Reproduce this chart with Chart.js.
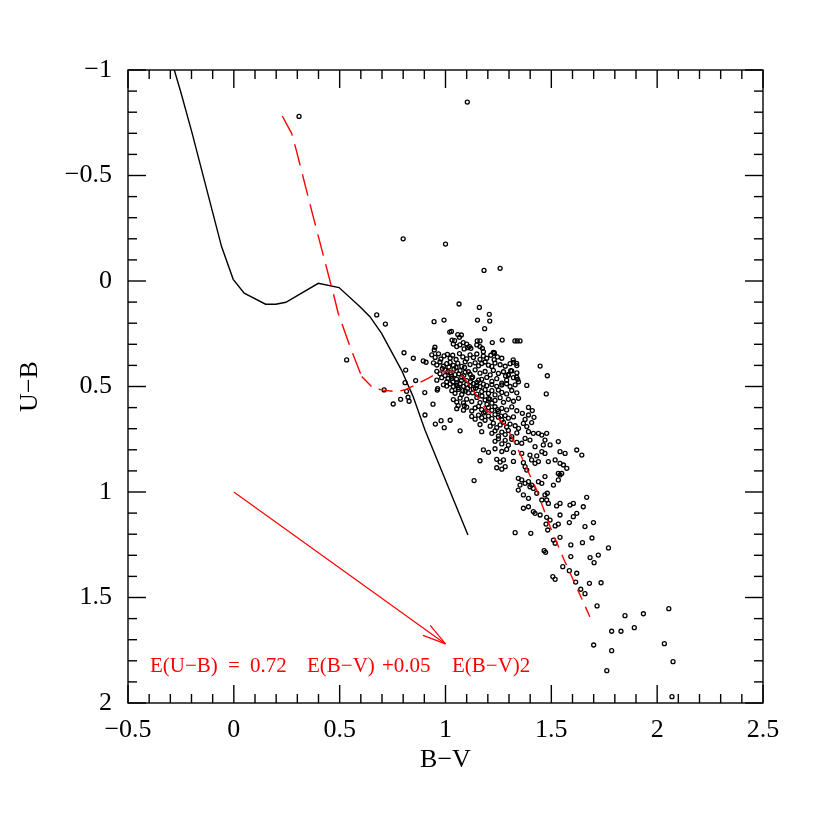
<!DOCTYPE html>
<html>
<head>
<meta charset="utf-8">
<script src="https://cdn.jsdelivr.net/npm/chart.js@4.4.0/dist/chart.umd.min.js"></script>
<style>
  html, body { margin: 0; padding: 0; background: #fff; }
  #wrap { width: 830px; height: 830px; position: relative; }
</style>
</head>
<body>
<div id="wrap"><canvas id="ccd"></canvas></div>
<script>
// intrinsic colours (solid black line)
const zamsBV = [-0.296, -0.251, -0.199, -0.058, -0.003, 0.049, 0.150, 0.198, 0.246, 0.399, 0.497, 0.596, 0.643, 0.698, 0.792, 0.847, 0.903, 1.106];
const zamsUB = [-1.05, -0.897, -0.708, -0.163, -0.008, 0.058, 0.110, 0.110, 0.101, 0.011, 0.031, 0.122, 0.169, 0.248, 0.422, 0.548, 0.706, 1.204];

// reddened sequence (red dashed line)
const redBV = [0.229, 0.273, 0.295, 0.367, 0.478, 0.493, 0.549, 0.604, 0.658, 0.706, 0.769, 0.816, 0.918, 0.974, 1.036, 1.083, 1.130, 1.193, 1.257, 1.288, 1.352, 1.391, 1.431, 1.494, 1.557, 1.682];
const redUB = [-0.782, -0.700, -0.620, -0.336, 0.091, 0.153, 0.311, 0.453, 0.508, 0.517, 0.525, 0.513, 0.461, 0.429, 0.429, 0.453, 0.517, 0.611, 0.659, 0.690, 0.817, 0.904, 0.991, 1.165, 1.314, 1.591];

// reddening vector
const arrowBV = [0, 1.0];
const arrowUB = [1.0, 1.72];

// observed stars [B-V, U-B]
const stars = [
  [1.103,-0.848],[0.308,-0.78],[0.80,-0.20],[1.0,-0.175],[1.182,-0.05],[1.258,-0.06],[1.064,0.109],[1.16,0.125],
  [0.675,0.161],[0.716,0.204],[0.533,0.374],[0.804,0.340],[0.848,0.366],[0.812,0.422],[0.809,0.482],[0.859,0.472],
  [0.710,0.516],[0.816,0.523],[0.823,0.551],[0.788,0.561],[0.828,0.570],[0.753,0.583],[0.902,0.529],[0.903,0.635],
  [0.946,0.193],[0.993,0.185],[1.207,0.158],[1.209,0.190],[1.151,0.185],[1.185,0.226],[1.268,0.280],[1.221,0.292],
  [1.230,0.340],[0.961,0.517],[0.941,0.584],[0.952,0.678],[0.979,0.662],[0.994,0.695],[1.060,0.591],[1.089,0.591],
  [1.020,0.242],[1.028,0.239],[1.058,0.254],[1.075,0.256],[1.066,0.267],[1.031,0.280],[1.043,0.283],[1.150,0.284],
  [1.163,0.284],[1.328,0.284],[1.339,0.284],[1.352,0.284],[1.447,0.403],[1.481,0.449],[1.476,0.535],[1.384,0.495],
  [0.950,0.314],[0.947,0.327],[1.037,0.299],[1.053,0.311],[1.068,0.303],[1.084,0.292],[1.100,0.299],[1.113,0.311],
  [1.148,0.303],[1.163,0.311],[1.174,0.319],[1.179,0.335],[1.231,0.343],[1.266,0.366],[1.320,0.374],[1.336,0.390],
  [1.308,0.425],[1.336,0.456],[1.341,0.466],[1.284,0.450],[1.297,0.447],[0.895,0.379],[0.908,0.385],[0.963,0.510],
  [1.069,0.710],[1.171,0.714],[1.088,0.322],[1.105,0.316],[1.120,0.319],[1.226,0.338],[1.022,0.660],
  [0.935,0.350],[0.951,0.362],[0.967,0.345],[0.978,0.370],[0.993,0.355],[1.009,0.348],[1.022,0.366],[1.034,0.352],
  [1.050,0.372],[1.066,0.344],[1.082,0.360],[1.100,0.369],[1.116,0.350],[1.132,0.363],[1.148,0.346],[1.163,0.371],
  [1.179,0.356],[1.195,0.366],[1.214,0.352],[1.230,0.373],[1.245,0.360],
  [0.943,0.388],[0.959,0.398],[0.974,0.384],[0.990,0.404],[1.006,0.392],[1.022,0.386],[1.037,0.400],[1.058,0.390],
  [1.077,0.405],[1.093,0.383],[1.116,0.396],[1.140,0.388],[1.156,0.402],[1.171,0.391],[1.187,0.384],[1.203,0.399],
  [1.219,0.405],[1.234,0.389],[1.258,0.397],[1.282,0.404],[1.305,0.392],[1.321,0.386],[1.337,0.401],
  [0.959,0.428],[0.974,0.440],[0.998,0.422],[1.022,0.436],[1.045,0.444],[1.069,0.425],[1.093,0.433],[1.116,0.442],
  [1.140,0.421],[1.163,0.437],[1.187,0.429],[1.211,0.445],[1.226,0.424],[1.250,0.438],[1.274,0.430],[1.297,0.443],
  [1.313,0.426],[1.337,0.435],
  [0.959,0.470],[0.982,0.458],[1.006,0.478],[1.030,0.462],[1.053,0.483],[1.077,0.455],[1.100,0.472],[1.124,0.460],
  [1.148,0.480],[1.171,0.466],[1.195,0.457],[1.219,0.476],[1.242,0.463],[1.266,0.484],[1.289,0.470],[1.321,0.458],
  [1.345,0.478],
  [0.990,0.492],[1.006,0.498],[1.022,0.488],[1.037,0.500],[1.053,0.494],[1.069,0.487],[1.085,0.499],[1.100,0.490],
  [1.116,0.497],[1.132,0.486],[1.148,0.495],[1.163,0.501],[1.179,0.489],[1.195,0.496],[1.219,0.491],[1.242,0.499],
  [1.266,0.493],[1.289,0.487],[1.305,0.500],[1.329,0.492],
  [1.030,0.520],[1.045,0.532],[1.061,0.514],[1.077,0.538],[1.093,0.522],[1.108,0.530],[1.132,0.512],[1.148,0.536],
  [1.171,0.524],[1.187,0.515],[1.203,0.533],[1.219,0.520],[1.234,0.540],[1.250,0.517],[1.266,0.528],[1.289,0.535],
  [1.313,0.519],[1.337,0.530],
  [1.037,0.562],[1.053,0.574],[1.069,0.555],[1.085,0.578],[1.100,0.560],[1.124,0.571],[1.148,0.552],[1.163,0.576],
  [1.187,0.564],[1.203,0.558],[1.219,0.579],[1.234,0.566],[1.258,0.553],[1.274,0.575],[1.297,0.561],[1.321,0.570],
  [1.345,0.556],
  [1.053,0.605],[1.085,0.612],[1.100,0.598],[1.124,0.616],[1.140,0.602],[1.156,0.594],[1.171,0.610],[1.187,0.620],
  [1.203,0.600],[1.219,0.613],[1.234,0.596],[1.250,0.618],[1.266,0.604],[1.289,0.611],[1.313,0.597],[1.337,0.615],
  [1.124,0.642],[1.140,0.655],[1.156,0.636],[1.171,0.648],[1.187,0.660],[1.203,0.640],[1.219,0.652],[1.234,0.633],
  [1.250,0.646],[1.266,0.658],[1.282,0.638],[1.297,0.650],[1.321,0.644],
  [1.163,0.680],[1.211,0.688],[1.226,0.674],[1.242,0.695],[1.258,0.682],[1.274,0.670],[1.289,0.692],[1.305,0.678],
  [1.329,0.686],[1.345,0.698],
  [1.219,0.722],[1.234,0.710],[1.250,0.735],[1.266,0.716],[1.282,0.728],[1.297,0.708],[1.313,0.738],[1.337,0.720],
  [1.234,0.760],[1.250,0.748],[1.266,0.772],[1.282,0.755],[1.297,0.778],[1.313,0.750],[1.337,0.765],
  [1.179,0.800],[1.203,0.812],[1.234,0.795],[1.266,0.808],[1.289,0.798],[1.321,0.813],
  [1.163,0.852],[1.242,0.845],[1.258,0.858],[1.274,0.848],[1.321,0.855],
  [1.242,0.885],[1.266,0.892],[1.282,0.880],
  // densest knot near the red hump
  [0.985,0.415],[1.012,0.430],[1.028,0.452],[1.040,0.418],[1.052,0.465],[1.063,0.440],[1.075,0.472],[1.086,0.448],
  [1.012,0.462],[0.998,0.448],[1.035,0.478],[1.060,0.505],[1.082,0.520],[1.105,0.508],[1.118,0.478],[1.128,0.455],
  [1.142,0.508],[1.156,0.470],[1.108,0.430],[1.090,0.410],[1.050,0.410],[1.016,0.408],[1.128,0.530],[1.172,0.545],
  [1.196,0.585],[1.210,0.560],[1.180,0.625],[1.245,0.610],[1.262,0.640],
  [1.392,0.599],[1.410,0.614],[1.392,0.635],[1.363,0.627],[1.376,0.656],[1.418,0.646],
  [1.368,0.675],[1.384,0.690],[1.392,0.714],[1.407,0.671],[1.415,0.722],[1.439,0.722],[1.455,0.730],[1.478,0.722],
  [1.360,0.769],[1.376,0.746],[1.399,0.754],[1.423,0.785],[1.462,0.777],[1.470,0.754],[1.494,0.777],[1.533,0.761],
  [1.360,0.817],[1.399,0.825],[1.431,0.829],[1.455,0.809],[1.470,0.817],[1.541,0.809],[1.565,0.817],[1.620,0.801],
  [1.644,0.825],[1.368,0.861],[1.376,0.880],[1.384,0.896],[1.407,0.848],[1.423,0.864],[1.439,0.856],[1.486,0.856],
  [1.518,0.848],[1.541,0.864],[1.557,0.872],[1.573,0.888],[1.533,0.912],[1.549,0.912],
  [1.135,0.946],[1.344,0.935],[1.360,0.943],[1.352,0.967],[1.376,0.959],[1.392,0.951],[1.399,0.975],[1.407,0.967],
  [1.415,0.983],[1.439,0.951],[1.455,0.959],[1.470,0.927],[1.510,0.967],[1.533,0.943],[1.541,0.919],
  [1.344,0.991],[1.368,1.014],[1.392,1.030],[1.431,1.006],[1.455,1.038],[1.470,1.014],[1.478,1.038],[1.486,1.054],
  [1.525,1.066],[1.541,1.054],[1.588,1.062],[1.604,1.054],[1.620,1.101],[1.651,1.070],[1.667,1.025],[1.481,1.006],
  [1.368,1.077],[1.392,1.070],[1.415,1.093],[1.423,1.101],[1.447,1.109],[1.478,1.120],[1.494,1.133],[1.541,1.109],
  [1.604,1.117],[1.329,1.193],
  [1.475,1.152],[1.483,1.180],[1.518,1.161],[1.533,1.152],[1.585,1.145],[1.659,1.164],[1.699,1.145],[1.403,1.196],
  [1.510,1.228],[1.518,1.243],[1.541,1.215],[1.592,1.251],[1.647,1.240],[1.692,1.218],[1.770,1.265],[1.466,1.278],
  [1.473,1.286],[1.592,1.306],[1.683,1.311],[1.702,1.335],[1.722,1.299],[1.554,1.354],[1.585,1.373],[1.620,1.385],
  [1.507,1.401],[1.518,1.414],[1.615,1.427],[1.680,1.433],[1.735,1.430],[1.639,1.461],[1.659,1.482],[1.716,1.540],
  [1.848,1.586],[1.935,1.577],[2.055,1.553],[1.785,1.660],[1.829,1.660],[1.892,1.643],[1.700,1.725],[1.785,1.752],
  [2.034,1.719],[1.762,1.847],[2.075,1.804],[2.070,1.970]
];

// axes
const xTicks = [-0.5, 0, 0.5, 1, 1.5, 2, 2.5];
const yTicks = [-1, -0.5, 0, 0.5, 1, 1.5, 2];
const xTitle = 'B\u2212V';
const yTitle = 'U\u2212B';
const relation = ['E(U\u2212B)', '=', '0.72', 'E(B\u2212V)', '+0.05', 'E(B\u2212V)2'];

const serif = "'Liberation Serif', 'DejaVu Serif', serif";
const fmt = v => String(v).replace('-', '\u2212');
const pairs = (a, b) => a.map((v, i) => ({ x: v, y: b[i] }));

const decor = {
  id: 'decor',
  afterDatasetsDraw(chart) {
    const { ctx, chartArea: a, scales: { x, y } } = chart;
    ctx.save();
    ctx.strokeStyle = '#000';
    ctx.lineWidth = 1.4;
    ctx.strokeRect(a.left, a.top, a.right - a.left, a.bottom - a.top);
    const seg = (x1, y1, x2, y2) => { ctx.beginPath(); ctx.moveTo(x1, y1); ctx.lineTo(x2, y2); ctx.stroke(); };
    for (let i = -5; i <= 25; i++) {
      const len = i % 5 === 0 ? 18 : 9;
      const px = x.getPixelForValue(i / 10);
      seg(px, a.bottom, px, a.bottom - len);
      seg(px, a.top, px, a.top + len);
    }
    for (let i = -10; i <= 20; i++) {
      const len = i % 5 === 0 ? 18 : 9;
      const py = y.getPixelForValue(i / 10);
      seg(a.left, py, a.left + len, py);
      seg(a.right, py, a.right - len, py);
    }
    // arrow head of the reddening vector
    const x0 = x.getPixelForValue(arrowBV[0]), y0 = y.getPixelForValue(arrowUB[0]);
    const x1 = x.getPixelForValue(arrowBV[1]), y1 = y.getPixelForValue(arrowUB[1]);
    const ang = Math.atan2(y1 - y0, x1 - x0);
    ctx.strokeStyle = '#ff0000';
    ctx.lineWidth = 1.2;
    [0.26, -0.26].forEach(d => seg(x1, y1, x1 - 24 * Math.cos(ang + d), y1 - 24 * Math.sin(ang + d)));
    // relation text
    ctx.fillStyle = '#ff0000';
    ctx.font = '21px ' + serif;
    ctx.textBaseline = 'alphabetic';
    const tx = [150, 228, 250, 307, 382, 452];
    relation.forEach((s, i) => ctx.fillText(s, tx[i], 672));
    // axis titles
    ctx.fillStyle = '#000';
    ctx.font = '26px ' + serif;
    ctx.textAlign = 'center';
    ctx.textBaseline = 'middle';
    ctx.fillText(xTitle, (a.left + a.right) / 2, 760);
    ctx.translate(30, (a.top + a.bottom) / 2);
    ctx.rotate(-Math.PI / 2);
    ctx.fillText(yTitle, 0, 0);
    ctx.restore();
  }
};

new Chart(document.getElementById('ccd'), {
  type: 'scatter',
  data: {
    datasets: [
      {
        type: 'line', data: pairs(redBV, redUB), borderColor: '#ff0000', borderWidth: 1.4,
        pointRadius: 0, tension: 0, fill: false,
        segment: { borderDash: c => c.p0.parsed.x < 0.55 ? [22, 9] : (c.p0.parsed.x < 1.1 ? [14, 8] : [11, 8]) }
      },
      { type: 'line', data: pairs(zamsBV, zamsUB), borderColor: '#000', borderWidth: 1.4, pointRadius: 0, tension: 0, fill: false },
      { type: 'line', data: pairs(arrowBV, arrowUB), borderColor: '#ff0000', borderWidth: 1.2, pointRadius: 0, fill: false },
      {
        data: stars.map(s => ({ x: s[0], y: s[1] })), pointRadius: 2, borderWidth: 1.3,
        borderColor: '#000', backgroundColor: 'rgba(255,255,255,0)', pointStyle: 'circle'
      }
    ]
  },
  options: {
    responsive: true,
    maintainAspectRatio: false,
    animation: false,
    events: [],
    layout: { padding: { top: 70, right: 67, left: 0, bottom: 0 } },
    plugins: { legend: { display: false }, tooltip: { enabled: false } },
    scales: {
      x: {
        type: 'linear', min: -0.5, max: 2.5,
        afterFit: s => { s.height = 127; },
        afterBuildTicks: s => { s.ticks = xTicks.map(v => ({ value: v })); },
        grid: { display: false, drawTicks: false },
        border: { display: false },
        ticks: { callback: fmt, color: '#000', padding: 12, maxRotation: 0, autoSkip: false, font: { family: serif, size: 26 } }
      },
      y: {
        type: 'linear', min: -1, max: 2, reverse: true,
        afterFit: s => { s.width = 128; },
        afterBuildTicks: s => { s.ticks = yTicks.map(v => ({ value: v })); },
        grid: { display: false, drawTicks: false },
        border: { display: false },
        ticks: { callback: fmt, color: '#000', padding: 16, autoSkip: false, font: { family: serif, size: 26 } }
      }
    }
  },
  plugins: [decor]
});
</script>
</body>
</html>
